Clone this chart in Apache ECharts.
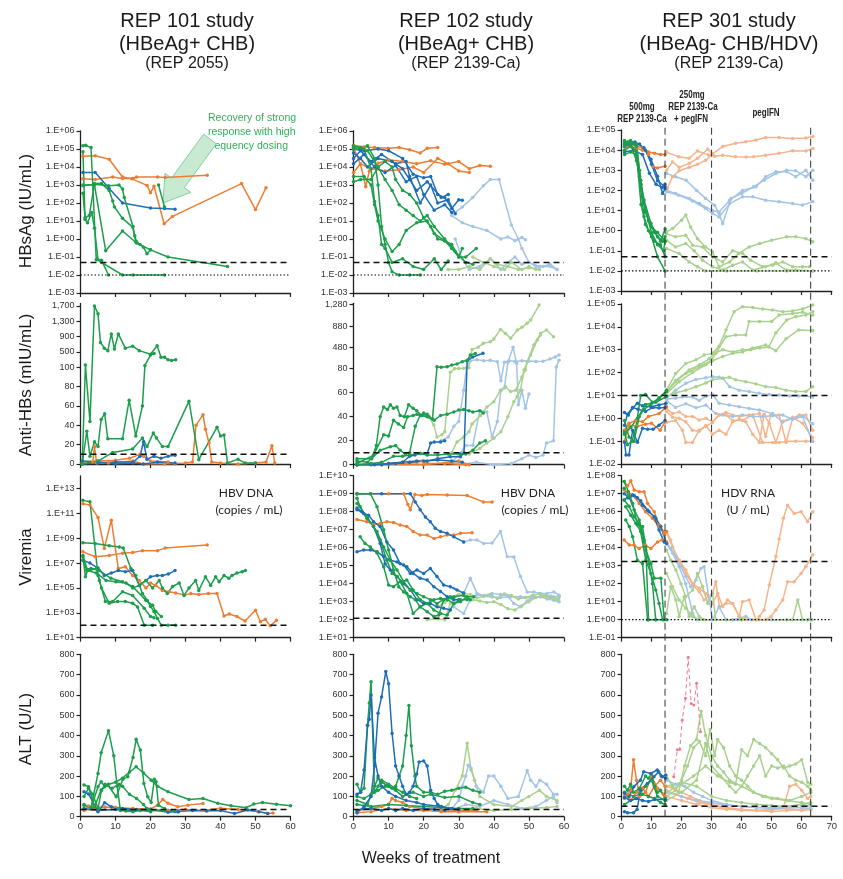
<!DOCTYPE html>
<html><head><meta charset="utf-8">
<script src="https://cdn.jsdelivr.net/npm/echarts@6/dist/echarts.min.js"></script>
<style>html,body{margin:0;padding:0;background:#fff}#c{width:843px;height:879px}</style>
</head><body><div id="c"></div><script>
// ---------- tick labels / reference values ----------
const weekTicks60 = [0,10,20,30,40,50,60];
const weekTicks70 = [0,10,20,30,40,50,60,70];
const altTicks = [0,100,200,300,400,500,600,700,800];
const anti101Ticks = [0,20,40,60,80,100,500,900,1300,1700];
const anti102Ticks = [0,20,40,60,80,480,880,1280];
const phaseLines301 = [14.5,30,63];

// ---------- HBsAg (IU/mL) ----------
const H101_o1=[[0.7,4e4],[4.2,4.2e4],[8.2,2.7e4],[12,2.8e3],[14.7,2.2e3],[19,9.5e2],[20,3.7e2],[21,8.5e2],[23.9,7],[26.3,18],[46,1.2e3],[50,43],[53,7e2]];
const H101_o2=[[0.7,2.2e3],[4.2,2e3],[9.2,2.8e3],[12,2.3e3],[15,2.3e3],[16,2.8e3],[22,2.8e3],[24.2,2.6e3],[36.2,3.5e3]];
const H101_b1=[[0.7,4.9e3],[4.2,5e3],[8.2,6.3e2],[12,1e2],[20,52],[24,49],[27,45]];
const H101_g1=[[0.7,1.5e5],[1.5,1.6e5],[3,1.2e5],[4.5,0.07],[6,0.065],[8,0.01]];
const H101_g2=[[0.7,7e4],[1.3,12],[2,8],[3.2,30],[4,4],[5,0.07],[6,0.05],[12,0.01],[15,0.01],[24,0.01]];
const H101_g3=[[0.7,1e3],[4,1e3],[7.2,0.22],[12,2.8],[16,0.6],[20,0.25],[25,0.1],[42,0.03]];
const H101_g4=[[0.7,9e2],[4,1.1e3],[8,9e2],[11,1e3],[12,6e2],[12.5,2e2],[15,5],[15.5,1.5],[16,0.7],[17,0.5],[18,0.35],[19,0.15],[20,0.25]];
const H101_g5=[[0.7,3.5e2],[1.3,15],[2.5,20],[4,1.2e3],[6,1.2e3],[8.2,5e2],[9.2,1.3e2],[9.7,60],[12,14],[14.9,4.6],[15.8,0.7]];
const H101_g6=[[22.3,1e3],[24,60]];

const H102_o1=[[0,1.6e5],[3,1.3e5],[6,1.2e5],[10,1.1e5],[13,1.2e5],[16,9e4],[19,6e4],[21,1.1e5],[24,1.2e5]];
const H102_o2=[[0,1.2e5],[2,1.4e4],[3.5,8e2],[4.5,6e3],[7,1.6e4],[10,2.5e4],[14,2e4],[18,1.5e4],[22,2.2e4],[26,1.4e4],[30,2e4],[33,8e3],[36,1.2e4],[39,1.1e4]];
const H102_o3=[[0,5e3],[2,1.5e4],[5,8e3],[9,6e3],[13,7e3],[17,1e4],[20,5e3],[24,3e4],[27,1.5e4],[30,6e3],[33,5e3]];
const H102_b1=[[0,1e5],[3,8e4],[7,1e5],[10,8e4],[14,3e4],[17,4e3],[20,2.5e3],[22,3e3],[24,3e2],[26,2e2],[28,50],[30,1.5e2],[31,1.4e2]];
const H102_b2=[[0,3e4],[2,8e4],[5,2e4],[8,5e4],[12,1.5e4],[15,2e4],[16,3e3],[19,1e2],[22,1e3],[24,1e2],[27,1.5e2],[29,25]];
const H102_b3=[[0,1.5e4],[3,5e4],[6,1e4],[9,5e3],[12,1.2e4],[15,1.5e3],[18,3e3],[20,3e2],[23,40],[26,80],[28,30]];
const H102_b4=[[0,6e4],[2,3e4],[4,1e4],[7,3e4],[11,2e4],[14,8e3],[16,2e3],[18,5e2],[21,1.5e3],[25,2e2],[27,3e2]];
const H102_lb1=[[29,30],[31,60],[34,2e2],[37,9e2],[39,2e3],[41.5,2e3],[45,6],[47,1],[48,0.3],[50,0.05],[52,0.03],[54,0.03],[56,0.04],[58,0.02]];
const H102_lb2=[[28,20],[31,8],[34,5],[38,3],[42,1],[44,1.3],[46,0.8],[48,1.2],[49,0.9]];
const H102_lb3=[[29,1],[31,0.08],[33,0.02],[36,0.03],[39,0.08],[42,0.02],[44,0.05],[46,0.1],[48,0.04],[50,0.05],[53,0.03],[56,0.03],[58,0.02]];
const H102_g1=[[0,1.5e5],[2,1.2e5],[4,1.5e5],[6,3e4],[7,1e3],[8,5],[9,0.5],[10,0.05],[11,0.015],[13,0.01],[16,0.01],[19,0.01]];
const H102_g2=[[0,1.2e5],[3,1e5],[5,8e3],[6,1.2e2],[7,20],[8,0.5],[9,0.3],[11,0.05],[14,0.08],[17,0.03],[20,0.02],[23,0.08],[25,0.02],[27,0.06]];
const H102_g3=[[0,3e3],[3,3e3],[5,1e3],[6,80],[7,10],[9,1],[11,0.2],[13,0.5],[15,3],[18,8],[21,10],[23,2],[26,0.8],[28,0.5],[30,0.1],[32,0.1],[35,0.3]];
const H102_g4=[[0,1.5e3],[2,2e3],[5,2e3],[7,1e4],[9,2e4],[11,1e4],[12,2e3],[14,5e2],[16,3e2],[18,1e2],[20,15],[22,5],[24,1],[26,0.8],[28,0.3],[30,0.1],[31,0.3]];
const H102_g5=[[0,1e5],[4,8e4],[7,1e4],[9,2e3],[11,5e2],[13,80],[15,40],[17,20],[19,10],[21,20],[23,5],[26,1],[29,0.2],[32,0.05],[34,0.04]];
const H102_lg1=[[27,0.02],[30,0.02],[33,0.03],[36,0.02],[39,0.08],[41,0.04],[44,0.03],[47,0.02],[50,0.025],[53,0.02]];
const H102_lg2=[[34,0.1],[37,0.05],[40,0.03],[43,0.02],[45,0.05],[48,0.02],[50,0.03],[52,0.02]];

const H301_o1=[[1,2e4],[3,1.5e4],[5,1.2e4],[7,1e4],[9,8e3],[11,7e3],[13,6e3],[14.5,6e3]];
const H301_o2=[[1,1e4],[3,2e4],[5,1.5e4],[7,1.3e4],[9,6e3],[10.5,1.5e3],[12,1.3e3],[14.5,1.6e3]];
const H301_b1=[[1,2e4],[4.5,2.5e4],[7.5,1.3e4],[9.8,3.5e3],[12,5e2],[13.7,70],[14.5,1.2e2]];
const H301_b2=[[1,8e3],[4,1e4],[7,6e3],[9.3,7e2],[11.5,2e2],[13.5,1.4e2],[14.5,2e2]];
const H301_b3=[[1,1.5e4],[3,2e4],[6,2e4],[8,1e4],[10,2e3],[12,3e2],[14.5,1.5e2]];
const H301_g1=[[1,1.6e4],[3,2.5e4],[5,1.5e4],[6.4,3.2e2],[7.5,33],[9.8,2.3],[12,0.5],[13.7,0.3],[14.5,0.5]];
const H301_g2=[[1,2.5e4],[3,3e4],[5,2e4],[6,1e3],[7,50],[9,3],[11,0.8],[13,0.3],[14.5,1.2]];
const H301_g3=[[1,1e4],[3,1.5e4],[5,8e3],[6.5,1e2],[8,10],[10,0.8],[12,0.2],[14,0.1],[14.5,0.3]];
const H301_g4=[[1,2e4],[2.5,2.5e4],[4.5,1e4],[6,5e2],[7.5,5],[9,1],[11,0.3],[13,0.2],[14.5,0.05]];
const H301_g5=[[1,6e3],[3,8e3],[5,6e3],[6.5,20],[8,2],[10,0.5],[12,0.05],[14.5,0.01]];
const H301_g6=[[1,3e4],[3,2e4],[5,3e3],[6.5,2e2],[8,8],[10,1.5],[12,0.8],[14.5,0.3]];
const H301_lo1=[[15,8e3],[19,4.7e3],[22.5,3.9e3],[25.3,9e3],[29,5.8e3],[30.3,6.5e3],[33.7,1.5e4],[38,2.2e4],[41.4,2.6e4],[44.8,3.2e4],[48,4.2e4],[52.5,4.2e4],[57,3.8e4],[61.4,4e4],[63.7,4.8e4]];
const H301_lo2=[[15,1e3],[17,2.6e3],[19.2,1.4e3],[22.6,2.2e3],[25.3,3.9e3],[28.7,1.1e4],[31,5e3],[33.7,5.6e3],[38,4.7e3],[41.5,4.5e3],[44,4.7e3],[48,5.6e3],[52.5,6.9e3],[57,9.3e3],[61.4,9e3],[63.7,1.2e4]];
const H301_lo3=[[15.3,1.3e2],[17,4.8e2],[19.2,9.5e2],[22.6,1.4e3],[25.3,2e3],[28,3.1e3],[30.3,6.3e3]];
const H301_lb1=[[15,6.9e2],[18,4.8e2],[21.5,3.2e2],[25,1e2],[28,40],[31,18],[32.5,7],[33.7,2.2],[36.5,40],[40,70],[44,1.5e2],[47.5,3.2e2],[51.4,6.9e2],[55,1e3],[58,9.5e2],[61.4,4.8e2],[63.7,1e3]];
const H301_lb2=[[15,1e2],[18,70],[22.6,40],[26,22],[30.3,10],[32.5,8.5],[36,32],[40.3,1e2],[44.8,1.5e2],[48,4.8e2],[51.4,8.5e2],[55,8.5e2],[58,4.8e2],[61.4,1e3],[63.7,3.2e2]];
const H301_lb3=[[15,85],[19,58],[23.6,30],[28,12.6],[30.3,7],[32.5,4.8],[36,22],[40.3,48],[43.7,48],[48,32],[52.5,27],[57,22],[60.3,18.5],[63.7,27]];
const H301_lg1=[[15,0.87],[17,1.26],[20,3.3],[21.4,5.9],[23,1.5],[25.3,0.4],[28,0.155],[30.3,0.087],[32.5,0.016],[36,0.028],[39,0.072],[42.5,0.155],[46,0.23],[50,0.33],[55,0.49],[58,0.49],[61.4,0.4],[63.7,0.28]];
const H301_lg2=[[15,0.7],[18,0.49],[21.4,0.59],[23.7,0.19],[27,0.155],[30.3,0.049],[33.7,0.028],[37,0.1],[40.3,0.072],[43,0.034],[47,0.016],[50.3,0.019],[53.7,0.028],[57,0.016],[60.3,0.016],[62.6,0.016]];
const H301_lg3=[[15,0.33],[18,0.155],[21.4,0.23],[24.2,0.1],[27,0.034],[30.3,0.016],[33.7,0.011],[37,0.019],[40.3,0.028],[43.7,0.011],[48,0.016],[51.4,0.025],[54.8,0.011],[58,0.011],[63.7,0.01]];
const H301_lg4=[[15,0.13],[19.2,0.072],[22.5,0.028],[25.3,0.016],[28,0.01],[35,0.01],[45,0.01],[55,0.01],[63.7,0.01]];

// ---------- Anti-HBs (mIU/mL) ----------
const A101_g1=[[0.5,0],[1.4,160],[2.7,44],[4,1700],[5,1500],[5.7,750],[6.8,600],[7.8,535],[8.8,970],[9.7,580],[10.8,970],[12.8,600],[14.9,650],[16.8,535],[20,440],[21.9,665],[23,360],[24,360],[25,300],[26,275],[27.2,300]];
const A101_g2=[[0.5,0],[1.8,34],[2.7,8],[4,23],[5,18],[5.9,46],[6.9,52],[7.8,26],[12,26],[13.9,66],[15.8,29],[17.7,60],[18.4,150],[20,420],[21,460]];
const A101_g3=[[0.5,0],[5,3],[9.2,12],[14.9,15.5],[17.7,27],[19,18],[20.8,32],[21.7,27],[23.4,18],[25,18],[31,65],[33.8,4.5],[39,38],[40,29],[41,30],[42,1],[45,5],[47,1],[50,1]];
const A101_o1=[[0.5,0],[3.5,2],[4,18],[4.6,1],[8,1],[15,3],[18,0],[24,0],[30,1],[32,2],[33,40],[35,51],[35.7,36],[36.7,22],[37.5,2],[40,1],[45,0],[50,1],[53,2],[54.7,19],[55.5,1]];
const A101_o2=[[0.5,2],[5,3],[10,4],[14,6],[17,10],[18,8],[20,3],[25,2],[27,0]];
const A101_b1=[[0.5,0],[5,1],[10,2],[15,2],[17,8],[18,23],[19,5],[21,8],[23,6],[25,8],[27,9]];
const A101_b2=[[0.5,3],[5,2],[10,0],[15,1],[18,0],[22,2],[27,1]];

const A102_g1=[[1,5],[5.2,5],[6.5,16],[7.6,40],[8.6,48],[9.7,46],[10.5,50],[11.4,47],[12.4,48],[13.3,41],[14.5,40],[15.7,50],[17,47],[18,45],[19.5,41],[21,40],[23,37],[24.8,41],[26.7,42],[28.6,44],[30,45.5],[31.4,46],[32.9,45],[34,44],[36,45],[37,43]];
const A102_g2=[[1,1],[5.7,8],[8.6,25],[10,24],[11.4,37],[12.8,34],[14.3,31],[15.4,40],[17,41],[18.1,42],[19.5,41],[21,42]];
const A102_g3=[[1,3],[4,2],[7.6,12],[10.5,15],[12,16],[13.3,12],[14.8,9],[16,10],[17.6,32],[19,41],[20,43],[21.5,40],[22.5,38],[23.8,117],[25,105],[26.7,115],[28,150],[29.5,170],[31,210],[32.4,240],[33.3,336],[34.7,367]];
const A102_g4=[[1,0],[5,1],[8,2],[11.4,7],[14,7],[16,8],[19,9.4],[21,8],[24,8],[27,9],[30.5,9],[32,9],[34,12],[36,18],[37.6,20]];
const A102_b1=[[1,0],[5,0],[10,1],[14,2],[16,7],[17.5,8],[19,9.4],[21,9.4],[22,18],[23,19],[24.8,19],[26,20]];
const A102_b2=[[1,0],[6,0],[10,1],[14,2],[18,3],[21,3],[24,5],[27.6,6.7],[30.5,6.7],[31.5,10],[32.4,230],[34,300],[36.9,370]];
const A102_b3=[[1,0],[8,0],[12,1],[16,2],[20,3],[24,4],[28,3],[31,2]];
const A102_o1=[[1,0],[8,0],[15,1],[18,2],[19.5,3],[21,1],[26,1],[32,0]];
const A102_o2=[[1,0],[10,0],[20,0],[28,2],[30,3],[33,0]];
const A102_lg1=[[21.4,40.5],[22.9,33],[23.8,23],[25.2,25],[26,27.5],[27.6,77],[28.8,80],[30,85],[31.4,90],[32.9,100],[33.8,442],[35.5,480],[37,555],[39,585],[40,636],[41.9,817],[43.3,742],[44.8,649],[46.7,805],[48,855],[49.5,930],[50.5,992],[52.9,1273]];
const A102_lg2=[[28,10],[29.5,19],[31.4,23],[32.9,27.5],[33.8,34],[36.2,41],[38,48],[40,52.5],[41.9,62],[43.3,65],[44.8,61],[46.2,62],[48,73],[49,79],[49.5,211],[51.4,524],[53.3,742],[55,805],[57,680]];
const A102_lg3=[[33,9],[36,13.6],[38,18],[40,22],[42,27.5],[44,40],[45.7,52.5],[46.7,57],[47.6,62],[48.6,79],[50.5,336],[52.4,617],[53.3,711]];
const A102_lb1=[[25,20],[27,23],[28.6,32],[30,36],[31.4,62],[32.2,100],[33.3,230],[35.2,250],[37.1,230],[39,240],[41,210],[42,70],[43,200],[44.3,230],[46,215],[48,230],[50,225],[52,215],[54,220],[56,260],[57.5,300],[58.6,336]];
const A102_lb2=[[28,2],[30,8],[32,16],[34,16],[36,45],[38,44],[39.5,23],[41,36],[42,62],[43,64],[44,200],[45.5,480],[46.5,180],[47,50],[48,62],[49,47],[50,59]];
const A102_lb3=[[30,0],[35,2],[40,0],[45,1],[48,5],[50,8],[52,6],[54,8],[55,18],[57,20],[57.8,110],[58.6,240]];

const A301_b1=[[1,1.8],[2.3,1.4],[3.7,2.8],[5.3,4.5],[7,3.5],[9.8,3.2],[12.5,3.8],[14.8,4.5]];
const A301_b2=[[1,0.09],[1.5,0.025],[2.5,0.025],[3.7,0.3],[5.3,0.09],[7,0.37],[8.7,0.33],[10.5,0.33],[12.5,0.5],[14.5,0.8]];
const A301_b3=[[1,0.5],[2,1.5],[3.7,3],[5.5,2.5],[8,2],[10.5,3],[12.5,2.8],[14.5,3]];
const A301_g1=[[1,0.25],[2,0.07],[3.5,0.1],[4.8,0.4],[6.4,10],[8,11],[10.3,5],[12.5,7],[15,17]];
const A301_g2=[[1,0.8],[2.5,0.15],[4.2,0.1],[5.9,1.2],[7.5,2.5],[9.8,4],[12.5,8],[15,15]];
const A301_g3=[[1,0.2],[3.1,0.4],[5.3,1],[8,4],[11.4,5],[15,9]];
const A301_o1=[[1,0.3],[2.5,0.6],[4.7,0.8],[7,0.7],[9,1.2],[12.5,1.6],[15,3.2]];
const A301_o2=[[1,0.1],[2.5,0.5],[5.3,0.45],[8,0.55],[10,0.6],[12.9,0.3],[14.5,0.7]];
const A301_lg1=[[15,17],[18,90],[21.4,250],[24.8,360],[27.5,580],[30.3,700],[32.5,1400],[34.8,7300],[37.5,4.6e4],[40.3,7.6e4],[43.7,7e4],[47,6e4],[50.3,5.5e4],[53.7,4.6e4],[57,5e4],[60.3,6e4],[63.7,9e4]];
const A301_lg2=[[15,15],[18,45],[22.5,130],[26,220],[29.2,400],[31,700],[33.7,1e3],[37,800],[40.3,1e3],[43,1e3],[46,1.2e3],[49,1.3e3],[51.4,5.4e3],[55,2e4],[58,2.8e4],[61.4,3.3e4],[63.7,4.6e4]];
const A301_lg3=[[15,14],[18,40],[21.4,90],[25.9,180],[29.8,330],[31.4,700],[34.8,3.7e3],[38,4.4e3],[41.4,4.4e3],[42.5,1.7e4],[46,1.7e4],[50,1.7e4],[52.5,3.3e4],[57,3.8e4],[60.3,4.4e4],[63.7,3.3e4]];
const A301_lg4=[[15,12],[19.2,40],[23.6,100],[28.1,220],[30.3,330],[33.7,500],[37,700],[40.3,800],[43.7,1.2e3],[48,1.6e3],[51.4,900],[54.8,3e3],[59,7.3e3],[63.7,7e3]];
const A301_lg5=[[15,9],[18,12.7],[21.4,17],[24.8,24],[28.1,35],[30.3,48],[33.7,57],[35.9,63],[38,48],[41.4,40],[44.8,32],[48,24],[51.4,22],[54.8,17],[58,14.7],[61.4,15],[63.7,24]];
const A301_lb1=[[15,7.9],[18,17],[21.4,34],[24.8,50],[28.1,60],[30.3,65],[32.5,62],[33.7,57],[36,24],[39.2,17],[42.5,15],[45.9,12.3],[49.2,11],[52.5,10.5],[55.9,9.5],[59,9.5],[63.7,8.8]];
const A301_lb2=[[15,7],[18,7.5],[20.3,8.5],[23.6,8.5],[25.9,6],[28.1,9],[30.3,11],[32.5,4.5],[35.9,3.8],[39.2,3.2],[42.5,2.7],[45.9,2.3],[50.3,1.6],[53.7,0.69],[57,1],[60.3,1.3],[63.7,0.57]];
const A301_lb3=[[15,6],[18,3],[21.4,4.3],[24.8,2.9],[28.1,3.7],[31.4,1.6],[33.7,1.4],[37,1.2],[40.3,1.4],[43.7,1.2],[47,1.2],[50.3,1.3],[53.7,1.4],[57,0.9],[60.3,1.2],[63.5,0.1]];
const A301_lo1=[[15,2.7],[17,1.6],[19.2,1.9],[21.4,1.2],[23.6,1.2],[25.9,0.85],[28.1,1],[30.3,0.7],[32.5,1.4],[34.8,1.8],[37,1.4],[39.2,1.2],[42.5,1.4],[45.9,1.6],[48,0.16],[49.7,1.4],[52.5,1.4],[54.8,0.087],[57,1],[59.2,1.4],[61.4,1.4],[63.7,0.3]];
const A301_lo2=[[15,2],[17,1.1],[19.2,1],[21.4,0.7],[23.6,0.3],[25.9,0.27],[28.1,0.48],[30.3,0.2],[32.5,0.3],[34.8,0.2],[37,0.7],[39.2,0.9],[41.4,0.7],[43.7,0.2],[45.9,0.087],[47.5,1.5],[49.2,0.6],[51.4,0.087],[53.7,0.75],[57,1.1],[60.3,0.6],[63.7,0.14]];
const A301_lo3=[[15,0.67],[18,0.8],[20.3,0.3],[21.4,0.087],[23.6,0.087],[25.9,0.3],[28.1,0.45],[30.3,0.65],[32.5,1.4],[34.8,1.4],[37,0.8],[40.3,0.8],[43.7,1.4],[47,0.087],[50.3,0.087],[52.5,0.087],[54.8,0.1],[58,0.1],[61.4,0.1],[63.7,0.1]];

// ---------- Viremia ----------
const V101_o1=[[0.7,6e11],[2.7,4.6e11],[5,4.7e10],[6.8,1.5e8],[8.8,2.8e10],[10.8,3.7e6],[12.8,5e6],[14.9,1e6],[16.8,4e5],[18.7,1e5],[20,2.5e5],[21.5,1.6e5],[23.4,6.3e4],[25.3,5e4],[27.2,4e4],[29.6,2.7e4],[31.5,3.5e4],[33.8,3e4],[36.5,3.5e4],[39,3.6e4],[41,5.5e2],[42.5,8e2],[44.7,5e2],[47,2.2e2],[50,1.6e3],[51.4,1.9e2],[52.8,3e2],[54.2,90],[56,2.5e2]];
const V101_o2=[[0.7,8e7],[4.2,3.2e7],[8.2,4e7],[12,6.3e7],[14.9,7e7],[17.7,1e8],[22,1e8],[24.2,1.6e8],[36.2,2.8e8]];
const V101_b1=[[0.7,1.7e7],[2.7,1e7],[5,4e6],[6.8,1e6],[8.8,1.6e6],[10.8,2.5e6],[12.8,2e6],[14.9,2.5e6],[16.8,1.6e5],[18.7,4e5],[20,8e5],[21.9,1e6],[23.4,1e6],[25.1,1.3e6],[27,2.5e6]];
const V101_g1=[[0.7,1.1e12],[2.7,8.5e11],[5,1e6],[6,1e5],[8.2,5.8e3],[10.6,8e3],[12.8,8e3],[14.9,5.8e3],[16.3,3e3],[18.2,1e2],[20.6,1e2]];
const V101_g2=[[0.7,4.3e8],[4.2,3.8e8],[8.2,2.5e8],[11.1,2e8],[12.2,1.6e8],[14.4,3.7e6],[15.8,1e6],[17.7,3.6e4],[19.1,1e4],[20,3.2e3],[21,1.3e3],[22,3.5e2],[23.1,1e2],[25,1e2],[27.2,1e2]];
const V101_g3=[[0.7,3.2e7],[1.4,8e5],[2.1,3e6],[3,3.7e6],[5.4,2.5e6],[8.7,6e5],[12,3.2e5],[14.9,1.3e5],[18.7,1e4],[20.6,4e3],[21.5,1.3e3],[23.1,5e2]];
const V101_g4=[[0.7,1.7e7],[1.8,2.5e6],[3,3e6],[4.6,3.7e6],[5.4,4e5],[7.1,8e3],[9.2,8e3],[12,5e4],[14.9,2.5e4],[18.2,2.3e3],[20,5e2],[21,4e2]];
const V101_g5=[[0.7,4e7],[2,2.5e6],[4.5,1.6e6],[7.3,4e5],[10.1,3.2e5],[13,2.5e5],[14.9,1e5],[16.8,1.6e5],[18.7,4e5],[20.6,1e5],[22.5,4e5],[23.4,1e5],[24.8,3.6e4],[26.3,1.3e5],[28.2,2.5e5],[29.6,2.5e4],[31,1e5],[32.9,4e5],[33.8,6.3e4],[35.7,8e5],[37.2,1.6e5],[38.6,8e5],[39.6,3.2e5],[41,1e6],[42.4,6e5],[43.3,1e6],[44.7,1.6e6],[46.2,2e6],[47.1,2.5e6]];

const V102_o1=[[1,9.5e8],[5,1e9],[10,1e9],[14.3,1e9],[15.5,2.5e8],[16.2,1.3e8],[17.5,9e8],[19.5,8e8],[21,9e8],[26.7,8.5e8],[32.4,8e8],[37,3.5e8],[39.5,3.5e8]];
const V102_o2=[[1,3.7e7],[3.8,2.8e7],[5.7,1.9e7],[7.6,2.2e7],[9.5,2.8e7],[11.4,2.5e7],[13.3,1.8e7],[15.2,1.5e7],[17,8e6],[19,5e6],[21,5e6],[23,3.2e6],[24.8,4e6],[26.7,5e6],[28.6,5e6],[30.5,6.3e6],[33.8,6.8e6]];
const V102_b1=[[1,1e9],[8,1e9],[16.2,1e9],[17.6,3.5e8],[19,1.3e8],[20.5,5e7],[21.9,2.8e7],[23.3,1.2e7],[24.8,8e6],[26.7,6.3e6],[28.6,4e6],[31.4,2.1e6]];
const V102_b2=[[1,1.3e8],[2.9,8e7],[4.3,6.3e7],[5.7,2.8e7],[7.6,1.5e7],[9.5,2.1e6],[11.4,7.4e5],[13.3,1.3e5],[15.2,8.7e4],[17,3.7e4],[19,2e4],[21,1.6e4],[22.9,6.8e3],[24.8,3.7e3],[26.7,1.9e3],[28.6,1.3e3],[30,1.3e3]];
const V102_b3=[[1,6e5],[2.9,7.4e5],[4.8,7.4e5],[6.7,6e5],[8.6,3.2e5],[10.5,2e5],[12.4,1.6e5],[14.3,1.1e5],[16.2,3.7e4],[18.1,5.8e4],[20,3.7e4],[21.9,7e4],[23.8,2.5e4],[25.7,8.5e3],[27.6,6.8e3],[29.5,4.5e3],[31.4,3e3]];
const V102_b4=[[1,1.6e8],[2.4,1e8],[4,4e7],[5.7,1.5e7],[7.6,1.7e6],[9,1.3e5],[10.5,5.8e4],[12.4,2.5e4],[14.3,1e4],[16.2,4.5e3],[18.1,1.3e3],[20,8e2],[21.9,8e2],[23.8,5.2e2],[25.7,4.3e2],[27.6,3.5e2]];
const V102_g1=[[1,1e9],[4.8,1e9],[6.7,1.9e8],[8.6,1e7],[10,7.4e5],[11.4,5.8e4],[12.9,6.8e3],[14.3,3.5e3],[16.2,1.9e3],[17.6,1.3e3],[19,5.2e2],[21,2.8e2],[22.9,1.5e2],[24.3,1.8e2],[25.7,1.3e3],[27.6,1.9e3]];
const V102_g2=[[1,5.5e8],[1.9,1.9e8],[3.8,4.3e7],[5.7,1.5e7],[7.6,2.7e6],[9.5,2e5],[11,3.7e4],[12.4,2.5e4],[13.8,1.3e4],[15.2,1.6e4],[17,4.5e3],[19,1.3e3],[21,8e2],[22.9,1.3e3],[24.8,1.5e3],[26.7,1.3e3],[28.6,8e2],[30.5,1e3],[32.4,1.9e3],[34.3,1.9e3]];
const V102_g3=[[1.9,4e6],[3.3,1.7e6],[4.8,1.1e6],[6.7,5e5],[8.6,8.7e4],[10,8.5e3],[11.4,6.8e3],[13.3,1.3e4],[15.2,2.9e3],[17,2.2e2],[19,5.2e2],[21,8e2],[22.9,3.5e2],[24.8,2.2e2],[26.7,1.8e2],[28.6,8e2],[30.5,1.3e3],[32.4,1.3e3]];
const V102_g4=[[1,2.9e8],[3.8,5.2e7],[6.7,8e6],[8.6,1.1e6],[10.5,2e5],[12.4,5.8e4],[14.3,1.3e4],[16.2,4.5e3],[18.1,2.9e3],[20,1.9e3],[21.9,1.3e3],[23.8,8e2],[25.7,1.3e3],[28.6,1.9e3],[31.4,2.3e3],[33.3,1.3e3]];
const V102_lg1=[[21,1e2],[24,1.1e2],[26,1e2],[27.6,8e2],[29.5,2.2e3],[31.4,3e3],[33.3,2.5e3],[35.2,1.6e3],[37.1,2e3],[39,2.5e3],[41,1.5e3],[43,2.7e3],[45,2.2e3],[47,1.4e3],[49,1.7e3],[51,2.2e3],[53,2.8e3],[55,2.2e3],[57,1.8e3],[58.5,1.4e3]];
const V102_lg2=[[24,5e2],[26,9e2],[28,1.5e3],[30,2.5e3],[32,1.8e3],[34,1.3e3],[36,1.1e3],[38,9e2],[40,1e3],[42,7e2],[44,4e2],[46,3.5e2],[48,6e2],[50,1e3],[52,1.7e3],[54,2e3],[56,1.6e3],[58,1.3e3]];
const V102_lb1=[[31.4,2.1e6],[33.3,2.7e6],[35.2,2.7e6],[37.1,1.7e6],[39.5,1.8e6],[41.9,8e6],[43.8,3.2e5],[45.7,3e5],[47.6,2.5e4],[49.5,3.5e3],[51.4,3.5e3],[53.3,2.9e3],[55.2,2.9e3],[57.1,3.5e3],[58.6,2.3e3]];
const V102_lb2=[[28.6,5.5e3],[31.4,2.9e3],[33.3,2e4],[35.2,2.9e3],[37.1,2.2e3],[39.5,2.9e3],[41.9,2.5e3],[43.8,2.2e3],[45.7,8e2],[47.6,5.2e2],[49.5,1.1e3],[51.4,1.9e3],[53.3,1.9e3],[55.2,1.4e3],[57.1,1.2e3],[58.6,1e3]];
const V102_lb3=[[28.6,5.2e2],[31.4,2.2e2],[33.3,1.3e3],[35.2,2.5e3],[37.1,2e3],[39.5,1.8e3],[41.9,1.7e3],[44.8,1.9e3],[47.6,1.9e3],[50.5,1.6e3],[53.3,1.9e3],[56.2,2.1e3],[58.6,1.9e3]];

const V301_o1=[[0.9,4.7e7],[2,2.7e7],[3.1,5.2e7],[4.2,1.6e7],[5.9,1.3e7],[7.5,1.3e7],[8.7,2.9e6],[10.9,1e6],[12.5,1.8e5],[14.2,5.8e4],[15,8e4]];
const V301_o2=[[0.9,2.7e4],[2.6,1.4e4],[4.2,1.4e4],[5.9,9e3],[8,1.4e4],[9.8,9e3],[12,2.1e4],[13.5,2.7e4],[15,2.1e4]];
const V301_o3=[[0.9,1.6e7],[2,1.2e7],[3.7,8.5e6],[5.9,2.9e6],[8,1e6],[10.3,4.3e5],[12.5,1.5e5],[14.2,8e4]];
const V301_b1=[[0.9,4.5e6],[2,6e6],[3.7,8.5e6],[5.3,6e6],[7,2.3e6],[9.2,1e6],[11.4,4.3e5],[13.1,1.5e5],[15,1.7e4]];
const V301_b2=[[0.9,1e7],[2.5,6e6],[4.2,8e6],[6.4,4e6],[8.7,1.2e6],[10.9,5.2e5],[12.5,9.5e4],[14.2,2.1e4]];
const V301_g1=[[0.9,4.7e7],[2.3,1.3e7],[3.7,2.9e6],[5.3,1.8e5],[7,1.5e5],[8.1,1.1e4],[9,1]];
const V301_g2=[[0.9,2e7],[2.5,7e6],[4.2,1.3e6],[5.9,3.5e5],[7.5,2.7e4],[9.2,1.3e3],[10.3,1e2],[11.4,1]];
const V301_g3=[[0.9,4.5e6],[2.5,2e6],[4.2,5.2e5],[5.9,2.2e5],[8.1,2e3],[9.8,3.7e2],[11.4,45],[12.5,8],[13.7,1]];
const V301_g4=[[1.4,1.9e6],[3.1,6.3e5],[4.8,2.2e5],[6.4,8e4],[8.1,7.4e3],[9.8,1.3e3],[10.9,2e2],[13.1,2e2],[14.2,1]];
const V301_g5=[[1.4,3.5e5],[2.6,1.5e5],[3.7,4e4],[5.3,2e3],[7,1.3e3],[8.7,1],[11.4,1],[15,1]];
const V301_lo1=[[15,8e4],[16.4,2.7e4],[18.1,3.2e3],[19.2,2e3],[21.4,3.7e2],[23.7,85],[25.9,36],[27.5,12.6],[30.3,29],[31.4,1.3e2],[32.6,5.2],[34.8,8],[37,8],[39.2,1.5],[40.3,10],[42.5,12.6],[44.8,1],[45.9,1.5],[47.5,3.5],[49.2,85],[51.4,3.2e3],[52.5,3e4],[53.9,4.3e5],[55.3,2.3e6],[57.5,8e5],[59.8,1e6],[62,2.8e5],[63.7,1e6]];
const V301_lo2=[[15,6.3e4],[17,1.1e4],[19.2,2e3],[21.4,5.8e2],[23.7,1e2],[25.9,55],[28.1,29],[30.3,8],[32,29],[33.7,5.2],[35.3,12.6],[37,8],[39.2,1.5],[41.4,1],[43.7,1],[45.9,1],[48,1],[49.8,1.5],[51.4,3.5],[53.7,12.6],[55.3,1.3e2],[57.5,1.3e2],[59.8,3.7e2],[61.4,9e2],[63.7,4e3]];
const V301_lb1=[[15,2.1e4],[16.4,9e3],[18.1,3.2e3],[19.8,8.7e2],[21.4,2.5e2],[23.1,68],[24.8,1.6e2],[26.4,7e2],[27.5,8.7e2],[29.2,12.6],[30.3,1],[32.5,5.2],[34.8,1],[37,1],[41.4,1.5],[43,1],[63,1]];
const V301_lb2=[[15,1.7e4],[17,5e3],[19.2,8.7e2],[21.4,1e2],[23.7,2.2],[25,1],[30,1],[40,1],[50,1],[62,1]];
const V301_lg1=[[15,7.4e3],[16.4,2e3],[18.1,5.8e2],[19.8,1e2],[21.4,19],[23.7,45],[25.3,3.7e2],[27,68],[28.7,8],[30.3,29],[31.4,1]];
const V301_lg2=[[15,2.2],[16.4,68],[18.1,12.6],[19.2,1.5],[20.9,19],[22.5,1.5],[24.2,5.2],[25.9,1.5],[27.5,1],[35,1],[45,1],[55,1],[57,1],[58.7,12.6],[60.3,1],[63.5,1]];
const V301_lg3=[[15,3.7e2],[17,68],[19.2,12.6],[21.4,4.3],[23.7,1.5],[25.9,1],[40,1],[62,1]];

// ---------- ALT (U/L) ----------
const L101_g1=[[1,60],[3,45],[5,213],[5.9,315],[8,424],[9.5,300],[10.5,150],[11.4,30],[13,28],[15,25],[17,30],[20,25]];
const L101_g2=[[1,57],[3,41],[5,148],[5.9,172],[6.9,148],[7.8,156],[10.2,98],[12.1,184],[13.5,197],[15,292],[15.9,381],[17.1,328],[18.1,164],[19.2,98],[20.2,70],[21.1,184],[21.6,172],[22.3,57],[24,40]];
const L101_g3=[[1,156],[2.3,148],[4,49],[5.9,131],[8,160],[10,170],[12,190],[14,220],[15.9,246],[18,215],[20.2,180],[22,150],[25,123],[31,85],[35,90],[39.2,66],[43,54],[47.3,44],[49.5,62],[52,70],[56,61],[60,54]];
const L101_g4=[[1,100],[2.3,140],[3.5,110],[5,40],[6,130],[7,160],[9,140],[11,160],[12,150],[14,110],[16,90],[18,60],[19,40],[20,30],[24,30],[27,25]];
const L101_o1=[[1,30],[2.3,53],[4,45],[7,48],[10,45],[15,40],[20,38],[22,57],[23.5,85],[25,66],[27.8,49],[30.7,57],[35,65]];
const L101_o2=[[1,35],[5,30],[10,38],[15,35],[20,30],[25,32],[30,35],[35,30],[40,42],[45,35],[50.7,25],[53.5,16],[55,18]];
const L101_b1=[[1,123],[2.3,112],[5,25],[6.9,69],[8.8,49],[12,40],[16,35],[20,30],[24,33],[27.8,25],[32,30],[36,28],[40,30],[44,16],[47.8,33],[51,25],[53.5,16]];
const L101_b2=[[1,40],[5,30],[10,35],[15,30],[20,35],[25,22],[28,25]];

const L102_b1=[[1,110],[2,120],[3,230],[4,450],[4.5,480],[5,600],[6,290],[7,200],[8,150],[10,120],[12,100],[15,80],[18,70],[20,60],[25,50],[28,40]];
const L102_b2=[[1,20],[3,50],[5,100],[6,250],[7,510],[8,590],[9.2,715],[10,655],[11,410],[12,250],[13,200],[14,150],[15,110],[16,120],[17,150],[18,210],[18.7,270],[20,275],[21,250],[22,130],[23,90],[24,60],[25,50],[27,40],[30,35]];
const L102_b3=[[1,30],[3,40],[5,40],[8,30],[10,40],[12,30],[14,40],[17,30],[20,40],[23,35],[26,30]];
const L102_g1=[[1,160],[2,120],[3,140],[4,450],[4.5,560],[5,665],[6,120],[7,150],[8,180],[10,160],[12,140],[14,120],[16,100],[18,90]];
const L102_g2=[[1,100],[3,90],[5,110],[7,130],[9,150],[11,140],[12,150],[13,200],[14,250],[15,400],[15.8,548],[16.5,350],[17.5,200],[18,150],[20,120],[22,120],[24,110],[26,125],[28,130],[30,140],[32,145],[34,130],[36,120]];
const L102_g3=[[1,80],[4,60],[6,150],[7,190],[8,170],[10,150],[12,130],[14,100],[17,120],[20,100],[22,110],[26,95],[30,100],[34,70],[36,60]];
const L102_g4=[[1,60],[5,50],[10,60],[15,55],[20,50],[25,45],[30,40],[34,40]];
const L102_o1=[[1,30],[5,40],[8,50],[10,60],[11,90],[12,80],[14,70],[16,50],[20,40],[25,35],[30,30],[35,30]];
const L102_o2=[[1,20],[5,25],[10,40],[15,30],[20,30],[25,25],[30,25],[38,25]];
const L102_lg1=[[25,40],[27,60],[29,130],[31,200],[32.4,362],[33.5,230],[34.5,180],[36,100],[40,60],[45,50],[48,80],[50,100],[53,130],[55,100],[58,80]];
const L102_lg2=[[30,30],[35,40],[40,30],[45,35],[50,40],[55,45],[58,50]];
const L102_lb1=[[28,40],[30,80],[31,150],[32,200],[32.7,254],[33.5,240],[35,150],[37,120],[38.5,200],[40,200],[42,150],[44,90],[47,100],[49.5,227],[50.5,180],[52,150],[53.1,180],[55,160],[57,110],[58,110]];
const L102_lb2=[[28,30],[32,60],[36,50],[40,80],[44,60],[48,40],[52,50],[55,80],[57,100],[58,70]];

const L301_b1=[[1,25],[2,20],[4,20],[5.2,36],[6.3,131],[8.6,164],[10.8,197],[12.4,222],[13.6,197],[14.7,205]];
const L301_b2=[[1,115],[2.5,98],[4.1,148],[6.3,180],[7.4,222],[9.7,213],[11.9,230],[13.2,200],[14.7,190]];
const L301_b3=[[1,95],[3,80],[5,90],[7,80],[9,75],[11,85],[14.7,85]];
const L301_o1=[[1,90],[2,110],[3,130],[4,280],[5,180],[6,100],[8,120],[10,200],[12,140],[14,110],[14.5,100]];
const L301_o2=[[1,100],[3,80],[5,120],[7,140],[9,100],[11,150],[13,180],[14.5,150]];
const L301_g1=[[1,150],[2,130],[3,160],[4,120],[6,140],[8,200],[9,190],[10,210],[11,150],[12,120],[13,130],[14.5,90]];
const L301_g2=[[1,60],[3,80],[5,90],[7,110],[9,100],[11,90],[13,70],[14.5,60]];
const L301_g3=[[1,120],[4,100],[6,110],[8,150],[10,180],[12,100],[14.5,80]];
const L301_r1=[[17.4,197],[18.6,330],[19.4,332],[20.2,476],[21.3,583],[22.2,785],[23.2,558],[24.1,550],[25,657],[26.3,419]];
const L301_lg1=[[15,200],[17,150],[19,120],[21,250],[23,350],[25,380],[26.5,520],[28,400],[30,300],[32,250],[34,220],[36,180],[40,150],[44,120],[48,100],[52,90],[56,80],[60,100],[63,120]];
const L301_lg2=[[15,100],[18,130],[20,180],[22,250],[24,340],[26,370],[28,300],[29.5,430],[31,300],[32,380],[34,340],[36,250],[38,200],[40,180],[42,150],[44,120],[47,100],[50,90],[55,80],[60,70],[63,60]];
const L301_lg3=[[15,120],[20,160],[24,200],[28,250],[32,200],[36,170],[38,160],[40,330],[42,300],[44,380],[46,360],[48,340],[50,310],[52,280],[54,240],[56,250],[58,260],[60,280],[62,170],[63,160]];
const L301_lg4=[[15,80],[20,120],[25,180],[28,360],[30,250],[33,200],[36,150],[38,120],[40,150],[42,200],[44,250],[46,300],[48,200],[50,250],[52,240],[54,250],[56,200],[58,180],[60,170],[62,150],[63,130]];
const L301_lg5=[[15,150],[20,170],[25,150],[30,100],[35,80],[40,70],[45,60],[50,55],[55,50],[60,60],[63,70]];
const L301_lo1=[[15,150],[17,140],[20,120],[23,100],[26,80],[30,60],[35,45],[40,35],[45,30],[50,30],[54,50],[56,150],[58,160],[60,130],[62,90],[63,100]];
const L301_lo2=[[15,130],[18,110],[22,90],[26,70],[30,55],[35,40],[40,30],[45,30],[50,35],[55,40],[60,30],[63,35]];
const L301_lo3=[[15,100],[20,80],[25,60],[30,45],[35,35],[40,35],[45,30],[50,25],[55,30],[60,35],[63,40]];
const L301_lb1=[[15,180],[18,160],[21,150],[24,120],[27,100],[30,80],[35,60],[40,50],[45,45],[50,45],[55,50],[60,60],[63,50]];
const L301_lb2=[[15,120],[20,100],[25,80],[30,70],[35,55],[40,50],[50,40],[60,45],[63,40]];

// ---------- build ----------
const C = {o:'#ED7D31', b:'#1E6EB6', g:'#1C9E4C', lo:'#F5B48C', lb:'#A3C4E6', lg:'#A9D18E', r:'#EE7A8C'};
const log10 = v => Math.log10(v);
const ident = v => v;
const brk = (knee, ratio) => v => v <= knee ? v : knee + (v - knee) * ratio;
const unbrk = (knee, ratio) => d => d <= knee + 1e-9 ? d : knee + (d - knee) / ratio;
const brk101 = brk(100, 0.03966), unbrk101 = unbrk(100, 0.03966);
const brk102 = brk(80, 0.04444), unbrk102 = unbrk(80, 0.04444);
const expFmt = v => { const e = Math.round(v); return '1.E' + (e < 0 ? '-' : '+') + String(Math.abs(e)).padStart(2, '0'); };
const range = (a, b, s) => { const r = []; for (let v = a; v <= b + 1e-9; v += s) r.push(v); return r; };

const colGeom = [{left:80.5,width:210,xmax:60,ticks:weekTicks60},{left:353.5,width:210.5,xmax:60,ticks:weekTicks60},{left:621.5,width:210.2,xmax:70,ticks:weekTicks70}];

const panels = [
 {c:0,top:131,h:162,tf:log10,min:-3,max:6,ticks:range(-3,6,1),fmt:expFmt,
  s:[['o',H101_o1],['o',H101_o2],['b',H101_b1],['g',H101_g1],['g',H101_g2],['g',H101_g3],['g',H101_g4],['g',H101_g5],['g',H101_g6]],
  refs:[[0.05,'dashed'],[0.01,'dotted']]},
 {c:1,top:131,h:162,tf:log10,min:-3,max:6,ticks:range(-3,6,1),fmt:expFmt,
  s:[['lb',H102_lb1],['lb',H102_lb2],['lb',H102_lb3],['lg',H102_lg1],['lg',H102_lg2],['o',H102_o1],['o',H102_o2],['o',H102_o3],['b',H102_b1],['b',H102_b2],['b',H102_b3],['b',H102_b4],['g',H102_g1],['g',H102_g2],['g',H102_g3],['g',H102_g4],['g',H102_g5]],
  refs:[[0.05,'dashed'],[0.01,'dotted']]},
 {c:2,top:130,h:161,tf:log10,min:-3,max:5,ticks:range(-3,5,1),fmt:expFmt,
  s:[['lo',H301_lo1],['lo',H301_lo2],['lo',H301_lo3],['lb',H301_lb1],['lb',H301_lb2],['lb',H301_lb3],['lg',H301_lg1],['lg',H301_lg2],['lg',H301_lg3],['lg',H301_lg4],['o',H301_o1],['o',H301_o2],['b',H301_b1],['b',H301_b2],['b',H301_b3],['g',H301_g1],['g',H301_g2],['g',H301_g3],['g',H301_g4],['g',H301_g5],['g',H301_g6]],
  refs:[[0.05,'dashed'],[0.01,'dotted']]},
 {c:0,top:303.5,h:160.5,tf:brk101,min:0,max:166,ticks:anti101Ticks.map(brk101),fmt:d=>Math.round(unbrk101(d)).toLocaleString('en-US'),
  s:[['o',A101_o1],['o',A101_o2],['b',A101_b1],['b',A101_b2],['g',A101_g3],['g',A101_g2],['g',A101_g1]],
  refs:[[10,'dashed']]},
 {c:1,top:303.3,h:161.4,tf:brk102,min:0,max:134.5,ticks:anti102Ticks.map(brk102),fmt:d=>Math.round(unbrk102(d)).toLocaleString('en-US'),
  s:[['lb',A102_lb1],['lb',A102_lb2],['lb',A102_lb3],['lg',A102_lg1],['lg',A102_lg2],['lg',A102_lg3],['o',A102_o1],['o',A102_o2],['b',A102_b1],['b',A102_b2],['b',A102_b3],['g',A102_g1],['g',A102_g2],['g',A102_g3],['g',A102_g4]],
  refs:[[10,'dashed']]},
 {c:2,top:304,h:160,tf:log10,min:-2,max:5,ticks:range(-2,5,1),fmt:expFmt,
  s:[['lo',A301_lo1],['lo',A301_lo2],['lo',A301_lo3],['lb',A301_lb1],['lb',A301_lb2],['lb',A301_lb3],['lg',A301_lg1],['lg',A301_lg2],['lg',A301_lg3],['lg',A301_lg4],['lg',A301_lg5],['o',A301_o1],['o',A301_o2],['b',A301_b1],['b',A301_b2],['b',A301_b3],['g',A301_g1],['g',A301_g2],['g',A301_g3]],
  refs:[[10,'dashed']]},
 {c:0,top:476,h:161.7,tf:log10,min:1,max:14,ticks:range(1,13,2),fmt:expFmt,
  s:[['o',V101_o1],['o',V101_o2],['b',V101_b1],['g',V101_g1],['g',V101_g2],['g',V101_g3],['g',V101_g4],['g',V101_g5]],
  refs:[[100,'dashed']]},
 {c:1,top:475.7,h:162,tf:log10,min:1,max:10,ticks:range(1,10,1),fmt:expFmt,
  s:[['lb',V102_lb1],['lb',V102_lb2],['lb',V102_lb3],['lg',V102_lg1],['lg',V102_lg2],['o',V102_o1],['o',V102_o2],['b',V102_b1],['b',V102_b2],['b',V102_b3],['b',V102_b4],['g',V102_g1],['g',V102_g2],['g',V102_g3],['g',V102_g4]],
  refs:[[120,'dashed']]},
 {c:2,top:475.7,h:162,tf:log10,min:-1,max:8,ticks:range(-1,8,1),fmt:expFmt,
  s:[['lo',V301_lo1],['lo',V301_lo2],['lb',V301_lb1],['lb',V301_lb2],['lg',V301_lg1],['lg',V301_lg2],['lg',V301_lg3],['o',V301_o1],['o',V301_o2],['o',V301_o3],['b',V301_b1],['b',V301_b2],['g',V301_g1],['g',V301_g2],['g',V301_g3],['g',V301_g4],['g',V301_g5]],
  refs:[[1700,'dashed'],[1,'dotted']]},
 {c:0,top:654.3,h:162.4,tf:ident,min:0,max:800,ticks:altTicks,fmt:v=>String(Math.round(v)),xl:true,
  s:[['o',L101_o1],['o',L101_o2],['b',L101_b1],['b',L101_b2],['g',L101_g1],['g',L101_g2],['g',L101_g3],['g',L101_g4]],
  refs:[[36,'dashed']]},
 {c:1,top:654.3,h:162.4,tf:ident,min:0,max:800,ticks:altTicks,fmt:v=>String(Math.round(v)),xl:true,
  s:[['lb',L102_lb1],['lb',L102_lb2],['lg',L102_lg1],['lg',L102_lg2],['o',L102_o1],['o',L102_o2],['g',L102_g3],['g',L102_g4],['g',L102_g2],['g',L102_g1],['b',L102_b3],['b',L102_b1],['b',L102_b2]],
  refs:[[35,'dashed']]},
 {c:2,top:654.3,h:162.4,tf:ident,min:0,max:800,ticks:altTicks,fmt:v=>String(Math.round(v)),xl:true,
  s:[['lo',L301_lo1],['lo',L301_lo2],['lo',L301_lo3],['lb',L301_lb1],['lb',L301_lb2],['lg',L301_lg1],['lg',L301_lg2],['lg',L301_lg3],['lg',L301_lg4],['lg',L301_lg5],['o',L301_o1],['o',L301_o2],['g',L301_g1],['g',L301_g2],['g',L301_g3],['b',L301_b1],['b',L301_b2],['b',L301_b3],['r',L301_r1]],
  refs:[[52,'dashed']]}
];

const FONT = "'Liberation Sans', Arial, sans-serif";
const grids = [], xAxes = [], yAxes = [], series = [];
panels.forEach((p, i) => {
  const g = colGeom[p.c];
  grids.push({left:g.left, top:p.top, width:g.width, height:p.h, containLabel:false});
  xAxes.push({type:'value', gridIndex:i, min:0, max:g.xmax, interval:10,
    axisLine:{show:true, onZero:false, lineStyle:{color:'#222', width:1.3}},
    axisTick:{show:true, length:4, lineStyle:{color:'#222', width:1.2}},
    axisLabel:{show:!!p.xl, fontSize:9.5, color:'#333', margin:5, fontFamily:FONT},
    splitLine:{show:false}});
  yAxes.push({type:'value', gridIndex:i, min:p.min, max:p.max,
    axisLine:{show:true, onZero:false, lineStyle:{color:'#222', width:1.3}},
    axisTick:{show:true, length:4, customValues:p.ticks, lineStyle:{color:'#222', width:1.2}},
    axisLabel:{show:true, customValues:p.ticks, formatter:p.fmt, fontSize:9, color:'#333', margin:6, fontFamily:FONT},
    splitLine:{show:false}});
  p.s.forEach(([k, pts]) => {
    const light = (k === 'lo' || k === 'lb' || k === 'lg');
    series.push({type:'line', xAxisIndex:i, yAxisIndex:i, silent:true, animation:false,
      data: pts.map(q => [q[0], p.tf(q[1])]),
      symbol:'circle', symbolSize: k==='r' ? 3 : 3.5, showSymbol:true,
      lineStyle:{color:C[k], width: k==='r' ? 1 : 1.5, type: k==='r' ? [4,3] : 'solid'},
      itemStyle:{color:C[k]}, z: light ? 2 : 3});
  });
  p.refs.forEach(([v, t]) => {
    series.push({type:'line', xAxisIndex:i, yAxisIndex:i, silent:true, animation:false,
      data:[[0, p.tf(v)], [g.xmax, p.tf(v)]], symbol:'none',
      lineStyle:{color:'#111', width: t==='dotted' ? 1.2 : 1.5, type: t==='dotted' ? [1.5,2] : [6,4]}, z:5});
  });
});
// phase separators for REP 301 (spanning all four panels)
const vi = panels.length;
grids.push({left:621.5, top:127, width:210.2, height:689.7, containLabel:false});
xAxes.push({type:'value', gridIndex:vi, min:0, max:70, show:false});
yAxes.push({type:'value', gridIndex:vi, min:0, max:1, show:false});
phaseLines301.forEach(w => {
  series.push({type:'line', xAxisIndex:vi, yAxisIndex:vi, silent:true, animation:false,
    data:[[w,0],[w,1]], symbol:'none', lineStyle:{color:'#333', width:1, type:[7,4]}, z:6});
});

const T = (text, x, y, size, extra, sx) => Object.assign({type:'text', x, y, silent:true, scaleX: sx || 1,
  style:Object.assign({text, fontSize:size, fontFamily:FONT, fill:'#1a1a1a', align:'center', verticalAlign:'middle'}, extra||{})});
const RT = (text, x, y) => ({type:'text', x, y, rotation:Math.PI/2, silent:true,
  style:{text, fontSize:17, fontFamily:FONT, fill:'#1a1a1a', align:'center', verticalAlign:'middle'}});
const NB = {fontFamily:FONT, fontWeight:'bold', fill:'#222'};
const CAL = {fontFamily:"Lato, 'Open Sans', sans-serif", fill:'#222'};
const SX = 0.8;

const graphic = [
  T('REP 101 study', 187, 21, 20), T('(HBeAg+ CHB)', 187, 44, 20), T('(REP 2055)', 187, 64, 16),
  T('REP 102 study', 466, 21, 20), T('(HBeAg+ CHB)', 466, 44, 20), T('(REP 2139-Ca)', 466, 64, 16),
  T('REP 301 study', 729, 21, 20), T('(HBeAg- CHB/HDV)', 729, 44, 20), T('(REP 2139-Ca)', 729, 64, 16),
  RT('HBsAg (IU/mL)', 26, 211), RT('Anti-HBs (mIU/mL)', 26, 385), RT('Viremia', 26, 557), RT('ALT (U/L)', 26, 729),
  T('Weeks of treatment', 431, 859, 16),
  T('500mg', 642, 107, 10, NB, SX), T('REP 2139-Ca', 642, 119, 10, NB, SX),
  T('250mg', 692, 95, 10, NB, SX), T('REP 2139-Ca', 693, 107, 10, NB, SX), T('+ pegIFN', 691, 119, 10, NB, SX),
  T('pegIFN', 766, 113, 10, NB, SX),
  T('HBV DNA', 246, 493, 12, CAL), T('(copies / mL)', 249, 510, 12, CAL),
  T('HBV DNA', 528, 493, 12, CAL), T('(copies / mL)', 535, 510, 12, CAL),
  T('HDV RNA', 748, 493, 12, CAL), T('(U / mL)', 748, 510, 12, CAL),
  T('Recovery of strong', 208, 118, 10.5, {align:'left', fill:'#2DB05A'}),
  T('response with high', 208, 132, 10.5, {align:'left', fill:'#2DB05A'}),
  T('frequency dosing', 208, 146, 10.5, {align:'left', fill:'#2DB05A'}),
  {type:'polygon', silent:true, z:1,
   shape:{points:[[216.4,143.8],[184.3,187.6],[190.8,192.4],[163,203],[165,173.4],[171.5,178.1],[203.6,134.2]]},
   style:{fill:'#C8EAD3', stroke:'#86CFA0', lineWidth:1}}
];

const chart = echarts.init(document.getElementById('c'), null, {renderer:'canvas'});
chart.setOption({animation:false, backgroundColor:'#fff', textStyle:{fontFamily:FONT},
  grid:grids, xAxis:xAxes, yAxis:yAxes, series, graphic});
</script></body></html>
